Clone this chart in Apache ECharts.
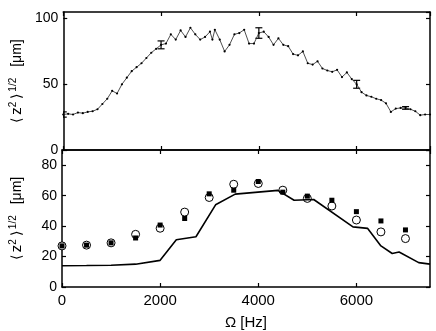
<!DOCTYPE html>
<html>
<head>
<meta charset="utf-8">
<script src="https://cdn.jsdelivr.net/npm/echarts@6/dist/echarts.min.js"></script>
<style>
  html, body { margin: 0; padding: 0; background: #fff; }
  #chart { width: 436px; height: 331px; }
</style>
</head>
<body>
<div id="chart"></div>
<script>
// top panel: rms displacement vs frequency
const topFreq = [0, 100, 200, 300, 400, 500, 600, 700, 800, 900, 1000, 1100, 1200, 1300, 1400, 1500,
  1600, 1700, 1800, 1900, 2000, 2100, 2200, 2300, 2400, 2500, 2600, 2700, 2800, 2900, 3000, 3050,
  3100, 3200, 3300, 3400, 3500, 3600, 3700, 3800, 3900, 4000, 4100, 4200, 4300, 4400, 4500, 4600,
  4700, 4800, 4900, 5000, 5100, 5200, 5300, 5400, 5500, 5600, 5700, 5800, 5900, 6000, 6100, 6200,
  6300, 6400, 6500, 6600, 6700, 6800, 6900, 7000, 7100, 7200, 7300, 7400, 7500];
const topAmp = [27, 27.5, 27, 28.5, 28, 29, 29.5, 31, 35, 39, 45, 43, 50, 55, 60, 63,
  66, 70, 74, 77, 80, 81, 88, 84, 91, 86, 93, 88, 84, 86, 90, 84,
  91.5, 84, 75, 80, 88, 89, 91.5, 81, 81, 89, 90, 86, 80, 85, 80, 79,
  73, 72, 75, 66, 65, 67.5, 62, 60.5, 59.5, 61, 55.5, 59, 54, 50, 44, 41.5,
  40.5, 39, 38, 35.5, 29, 31.5, 32, 32, 31, 29.5, 26.5, 27, 27];
// error bars on the top curve
const errFreq = [0, 2000, 4000, 6000, 7000];
const errAmp = [27, 80, 89, 50, 32];
const errSize = [2, 3, 4, 3, 1];

// bottom panel
const bottomFreq = [0, 500, 1000, 1500, 2000, 2500, 3000, 3500, 4000, 4500, 5000, 5500, 6000, 6500, 7000];
const squareAmp = [27, 27.5, 29, 32.2, 40.7, 45, 61.2, 63.6, 69.3, 62.3, 59.7, 57, 49.5, 43.4, 37.5];
const circleAmp = [27, 27.5, 29, 34.6, 38.6, 49.2, 58.8, 67.5, 68, 63.6, 58.2, 53.2, 44, 36.2, 31.8];
const lineFreq = [0, 500, 1000, 1500, 2000, 2330, 2730, 3130, 3530, 4400, 4730, 5130, 5930, 6230, 6500, 6730, 6870, 7270, 7500];
const lineAmp = [14, 14.1, 14.3, 15, 17.5, 31, 33, 54, 61, 63.5, 57, 57.5, 39.5, 38.5, 27, 22, 23, 16, 15];

const font = 'Liberation Sans, Arial, Helvetica, sans-serif';
const black = '#000';

const zip = (xs, ys) => xs.map((x, i) => [x, ys[i]]);

// <z^2>^(1/2) [um], superscripts via rich text
const yName = '{b|⟨}{t|z}{s|2}{c|⟩}{u|1/2}{g|[μm]}';
const nameRich = {
  b: { fontSize: 14, fontFamily: font, color: black, lineHeight: 16, verticalAlign: 'bottom', padding: [0, 3, 0, 0] },
  t: { fontSize: 15, fontFamily: font, color: black, lineHeight: 16, verticalAlign: 'bottom' },
  s: { fontSize: 10, fontFamily: font, color: black, lineHeight: 16, verticalAlign: 'top' },
  c: { fontSize: 14, fontFamily: font, color: black, lineHeight: 16, verticalAlign: 'bottom', padding: [0, 0, 0, 3] },
  u: { fontSize: 10, fontFamily: font, color: black, lineHeight: 16, verticalAlign: 'top', padding: [0, 0, 0, 2] },
  g: { fontSize: 14, fontFamily: font, color: black, lineHeight: 16, verticalAlign: 'bottom', padding: [0, 0, 0, 11] }
};

function frameAxis(extra) {
  return Object.assign({
    type: 'value',
    axisLine: { show: true, onZero: false, lineStyle: { color: black, width: 1.5 } },
    axisTick: { show: true, inside: true, length: 4, lineStyle: { color: black, width: 1.2 } },
    axisLabel: { show: false },
    splitLine: { show: false }
  }, extra);
}

const yLabel = { show: true, color: black, fontSize: 14, fontFamily: font, margin: 5, showMaxLabel: false };
const xLabel = { show: true, color: black, fontSize: 15, fontFamily: font, margin: 6, showMaxLabel: false,
  formatter: v => String(v) };

const chart = echarts.init(document.getElementById('chart'));

chart.setOption({
  animation: false,
  backgroundColor: '#fff',
  grid: [
    { left: 61, right: 6, top: 12, height: 138 },
    { left: 61, right: 6, top: 150, height: 138 }
  ],
  xAxis: [
    frameAxis({ gridIndex: 0, position: 'bottom', min: 0, max: 7500, interval: 2000 }),
    frameAxis({ gridIndex: 0, position: 'top', min: 0, max: 7500, interval: 2000 }),
    frameAxis({
      gridIndex: 1, position: 'bottom', min: 0, max: 7500, interval: 2000,
      axisLabel: xLabel,
      name: 'Ω [Hz]', nameLocation: 'middle', nameGap: 28,
      nameTextStyle: { color: black, fontSize: 15, fontFamily: font }
    }),
    frameAxis({ gridIndex: 1, position: 'top', min: 0, max: 7500, interval: 2000 })
  ],
  yAxis: [
    frameAxis({
      gridIndex: 0, position: 'left', min: 0, max: 105, interval: 50,
      axisLabel: yLabel,
      name: yName, nameLocation: 'middle', nameGap: 38, nameRotate: 90,
      nameTextStyle: { rich: nameRich }
    }),
    frameAxis({ gridIndex: 0, position: 'right', min: 0, max: 105, interval: 50 }),
    frameAxis({
      gridIndex: 1, position: 'left', min: 0, max: 90, interval: 20,
      axisLabel: yLabel,
      name: yName, nameLocation: 'middle', nameGap: 38, nameRotate: 90,
      nameTextStyle: { rich: nameRich }
    }),
    frameAxis({ gridIndex: 1, position: 'right', min: 0, max: 90, interval: 20 })
  ],
  series: [
    {
      type: 'line', xAxisIndex: 0, yAxisIndex: 0,
      data: zip(topFreq, topAmp),
      symbol: 'circle', symbolSize: 2.2,
      itemStyle: { color: black },
      lineStyle: { color: '#222', width: 0.8 },
      clip: true
    },
    {
      type: 'custom', xAxisIndex: 0, yAxisIndex: 0,
      data: errFreq.map((f, i) => [f, errAmp[i], errSize[i]]),
      clip: true,
      renderItem: (params, api) => {
        const x = api.value(0), y = api.value(1), e = api.value(2);
        const lo = api.coord([x, y - e]);
        const hi = api.coord([x, y + e]);
        const w = 3.5;
        const st = { stroke: black, lineWidth: 1.2 };
        return {
          type: 'group',
          children: [
            { type: 'line', shape: { x1: lo[0], y1: lo[1], x2: hi[0], y2: hi[1] }, style: st },
            { type: 'line', shape: { x1: lo[0] - w, y1: lo[1], x2: lo[0] + w, y2: lo[1] }, style: st },
            { type: 'line', shape: { x1: hi[0] - w, y1: hi[1], x2: hi[0] + w, y2: hi[1] }, style: st }
          ]
        };
      }
    },
    {
      type: 'line', xAxisIndex: 2, yAxisIndex: 2,
      data: zip(lineFreq, lineAmp),
      showSymbol: false,
      lineStyle: { color: black, width: 1.6 }
    },
    {
      type: 'scatter', xAxisIndex: 2, yAxisIndex: 2,
      data: zip(bottomFreq, circleAmp),
      symbol: 'circle', symbolSize: 8,
      itemStyle: { color: '#fff', borderColor: black, borderWidth: 1, opacity: 1 }
    },
    {
      type: 'scatter', xAxisIndex: 2, yAxisIndex: 2,
      data: zip(bottomFreq, squareAmp),
      symbol: 'rect', symbolSize: 5,
      itemStyle: { color: black, opacity: 1 }
    }
  ]
});
</script>
</body>
</html>
